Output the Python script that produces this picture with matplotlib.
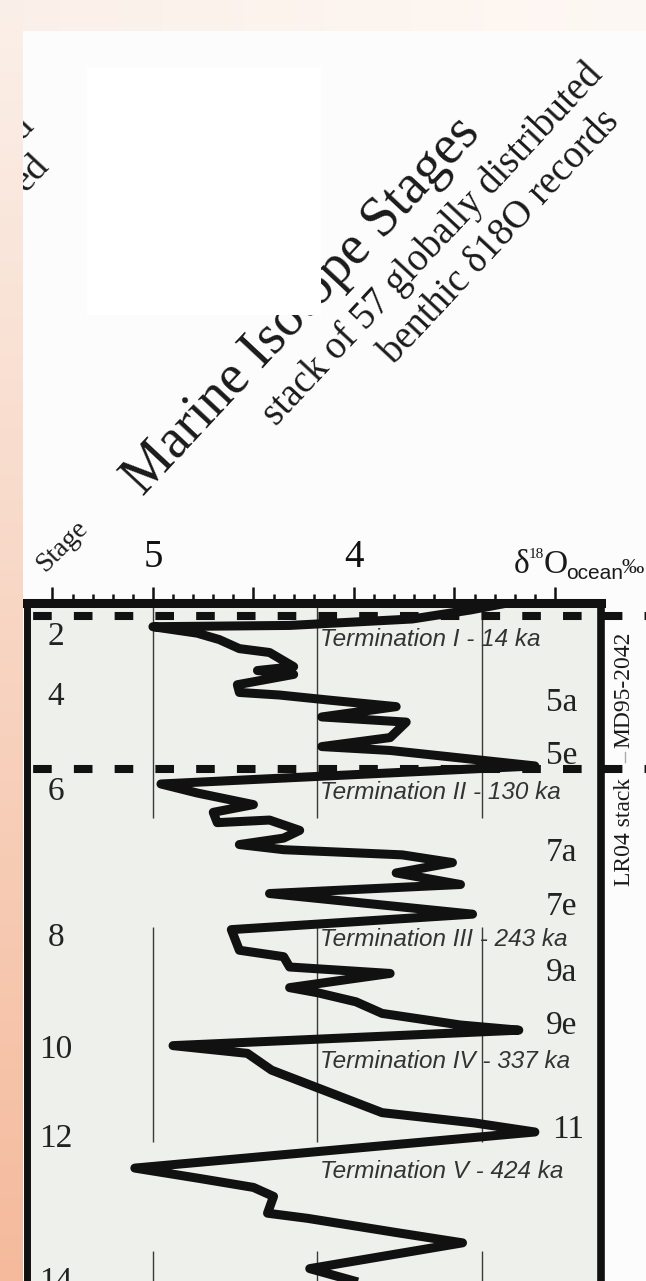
import numpy as np
import matplotlib.pyplot as plt
from matplotlib.patches import Rectangle
from matplotlib.lines import Line2D

plt.rcParams['font.family'] = ['Liberation Serif', 'DejaVu Serif']

# curva empilhada: d18O (permil) contra idade (ka)
d18o = [3.25, 3.42, 3.71, 4.32, 5.00, 4.78, 4.67, 4.57, 4.42, 4.30, 4.48, 4.30,
        4.58, 4.57, 4.37, 4.12, 3.79, 4.16, 3.74, 3.82, 4.16, 3.82, 3.10, 4.96,
        4.78, 4.50, 4.70, 4.68, 4.42, 4.27, 4.35, 4.57, 4.35, 3.76, 3.51, 3.79,
        3.47, 4.42, 3.41, 4.61, 4.57, 4.35, 4.32, 3.82, 4.32, 4.18, 3.99, 3.86,
        3.47, 3.18, 4.90, 4.53, 4.41, 4.16, 3.86, 3.40, 3.10, 5.09, 4.77, 4.50,
        4.40, 4.43, 4.23, 3.79, 3.46, 4.22, 3.92]
age = [-17, -12, -5, 0, 1, 6, 11, 18, 21, 32, 35, 38,
       46, 52, 54, 58, 63, 71, 75, 87, 94, 97, 109, 123,
       130, 139, 145, 153, 151, 159, 165, 170, 174, 178, 184, 192,
       201, 208, 224, 236, 252, 257, 265, 270, 281, 285, 292, 301,
       310, 314, 326, 332, 345, 360, 378, 386, 393, 421, 429, 436,
       443, 456, 460, 471, 479, 499, 512]

# estagios (lado esquerdo)
stage_labels = ['2', '4', '6', '8', '10', '12', '14']
stage_age = [9, 55.5, 129, 242.5, 329.5, 398.5, 509.5]

# subestagios (lado direito)
sub_labels = ['5a', '5e', '7a', '7e', '9a', '9e', '11']
sub_age = [60.2, 101.3, 176.6, 218.5, 269.7, 310.8, 391.5]

# terminacoes
term_labels = ['Termination I - 14 ka', 'Termination II - 130 ka',
               'Termination III - 243 ka', 'Termination IV - 337 ka',
               'Termination V - 424 ka']
term_age = [11.3, 130.0, 244.0, 338.0, 424.0]

# linhas tracejadas (limite entre os registros)
boundary_age = [-7.3, 111.4]
grid_x = [5.0, 4.184, 3.363]

W, H = 646, 1281
fig = plt.figure(figsize=(W / 100, H / 100), dpi=100)

# fundo com a borda cor de pessego
yy, xx = np.mgrid[0:H, 0:W]
img = np.ones((H, W, 3)) * 252 / 255
top_c = np.array([251, 240, 233]) / 255
bot_c = np.array([245, 186, 156]) / 255
t = (yy / H)[..., None]
strip = top_c + (bot_c - top_c) * t
right_c = np.array([254, 248, 244]) / 255
s = (xx / W)[..., None]
topstrip = top_c + (right_c - top_c) * s
img = np.where((yy < 31)[..., None], topstrip, img)
img = np.where((xx < 23)[..., None], strip, img)
bg = fig.add_axes([0, 0, 1, 1], zorder=-5)
bg.imshow(img, aspect='auto')
bg.axis('off')

ROT = 47
ink = '#1a1a1a'

# fragmentos de texto cortados na borda
fig.text(35 / W, 1 - 127 / H, 'd', rotation=ROT, rotation_mode='anchor',
         ha='right', va='baseline', fontsize=27.5, color=ink)
fig.text(50 / W, 1 - 167 / H, 'ed', rotation=ROT, rotation_mode='anchor',
         ha='right', va='baseline', fontsize=27.5, color=ink)
edge = fig.add_axes([0, 0, 23 / W, 1], zorder=5)
edge.imshow(img[:, :23], aspect='auto')
edge.axis('off')

# titulo
fig.text(143 / W, 1 - 497 / H, 'Marine Isotope Stages', rotation=ROT,
         rotation_mode='anchor', ha='left', va='baseline', fontsize=40, color=ink)
fig.text(276 / W, 1 - 427 / H, 'stack of 57 globally distributed', rotation=ROT,
         rotation_mode='anchor', ha='left', va='baseline', fontsize=27.8, color=ink)
fig.text(394 / W, 1 - 365 / H, 'benthic δ18O records', rotation=ROT,
         rotation_mode='anchor', ha='left', va='baseline', fontsize=27.8, color=ink)
fig.patches.append(Rectangle((87 / W, 1 - 315 / H), (321 - 87) / W, (315 - 68) / H,
                             transform=fig.transFigure, fc='white', ec='none', zorder=4))

fig.text(62 / W, 1 - 546 / H, 'Stage', rotation=45, ha='center', va='center',
         fontsize=20, color=ink)

# rotulo do eixo: delta 18 O ocean permil
fig.text(514 / W, 1 - 573 / H, 'δ', ha='left', va='baseline', fontsize=24, color=ink)
fig.text(529 / W, 1 - 558 / H, '18', ha='left', va='baseline', fontsize=11, color=ink)
fig.text(544 / W, 1 - 573 / H, 'O', ha='left', va='baseline', fontsize=24, color=ink)
fig.text(566 / W, 1 - 579 / H, 'ocean', ha='left', va='baseline', fontsize=15,
         family=['Liberation Sans', 'DejaVu Sans'], color=ink)
fig.text(622 / W, 1 - 573 / H, '‰', ha='left', va='baseline', fontsize=16, color=ink)

fig.text(624 / W, 1 - 690 / H, 'MD95-2042', rotation=90, ha='center', va='center',
         fontsize=17, color=ink)
fig.text(624 / W, 1 - 832 / H, 'LR04 stack', rotation=90, ha='center', va='center',
         fontsize=17, color=ink)
fig.add_artist(Line2D([625 / W, 625 / W], [1 - 752 / H, 1 - 762 / H], color='#aaaaaa', lw=1))

# painel principal
ax = fig.add_axes([26.5 / W, 0, (601 - 26.5) / W, 1 - 603 / H], zorder=1)
ax.set_facecolor('#eef0eb')
ax.set_xlim(5.629, 2.771)
ax.set_ylim(508.6, -17.4)

for gx in grid_x:
    ax.plot([gx, gx], [-17.4, 508.6], color='#3a3a3a', lw=1.0,
            ls=(0, (154.8, 78.5)), zorder=1)

for b in boundary_age:
    ax.plot([5.629, 2.4], [b, b], color='#111111', lw=5.8,
            ls=(4.3, (2.31, 2.75)), clip_on=False, zorder=4)

ax.plot(d18o, age, color='#111111', lw=6.5, solid_joinstyle='round',
        solid_capstyle='butt', zorder=3)

for lab, a in zip(stage_labels, stage_age):
    ax.text(5.483, a, lab, ha='center', va='center', fontsize=24, color='#222222')
for lab, a in zip(sub_labels, sub_age):
    ax.text(3.045 if lab != '11' else 3.015, a, lab, ha='left', va='center',
            fontsize=24, color='#222222')
for lab, a in zip(term_labels, term_age):
    ax.text(4.169, a, lab, ha='left', va='center', fontsize=17.5, style='italic',
            family=['Liberation Sans', 'DejaVu Sans'], color='#333333')

ax.xaxis.tick_top()
ax.set_xticks([5.5, 5.0, 4.5, 4.0, 3.5, 3.0])
ax.set_xticklabels(['', '5', '', '4', '', ''])
ax.set_xticks([round(3.0 + 0.1 * i, 1) for i in range(1, 26) if i % 5 != 0], minor=True)
ax.tick_params(axis='x', which='major', length=11.5, width=1.8, pad=8,
               labelsize=28, colors='#111111')
ax.tick_params(axis='x', which='minor', length=6.5, width=1.8, colors='#111111')
ax.set_yticks([])
ax.spines['bottom'].set_visible(False)
ax.spines['left'].set_linewidth(5)
ax.spines['right'].set_linewidth(5.5)
ax.spines['top'].set_linewidth(6.5)
for sp in ax.spines.values():
    sp.set_color('#111111')

fig.savefig('out.png', dpi=100)
